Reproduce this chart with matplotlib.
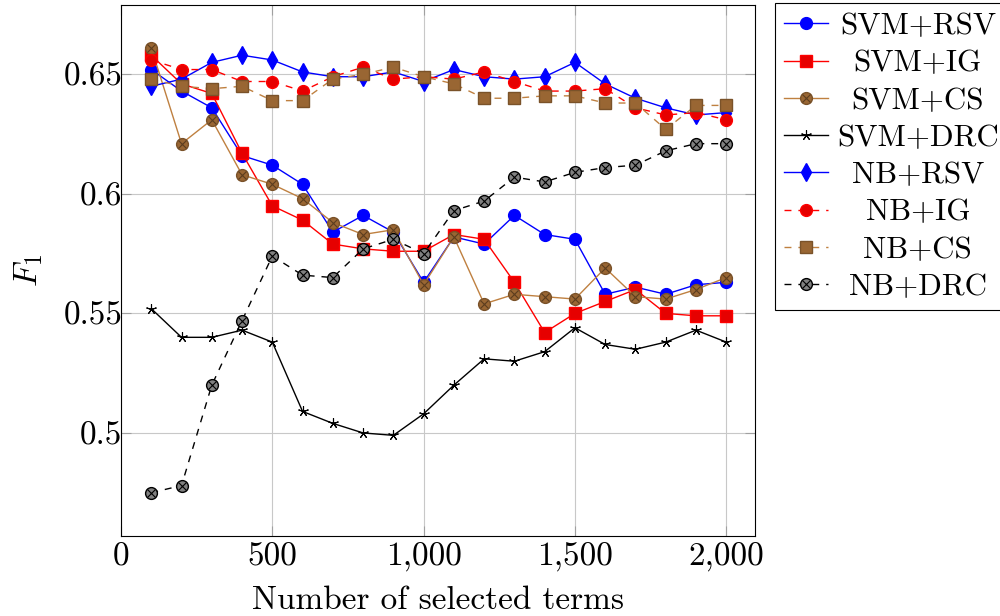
import matplotlib
matplotlib.use("Agg")
import matplotlib.pyplot as plt
from matplotlib.legend_handler import HandlerTuple
import numpy as np

plt.rcParams['font.family'] = ['cmr10', 'DejaVu Serif']
plt.rcParams['mathtext.fontset'] = 'cm'
plt.rcParams['axes.unicode_minus'] = False

x = [100, 200, 300, 400, 500, 600, 700, 800, 900, 1000,
     1100, 1200, 1300, 1400, 1500, 1600, 1700, 1800, 1900, 2000]

svm_rsv = [0.652, 0.643, 0.636, 0.616, 0.612, 0.604, 0.584, 0.591, 0.584, 0.563,
           0.582, 0.579, 0.591, 0.583, 0.581, 0.558, 0.561, 0.558, 0.562, 0.563]
svm_ig = [0.658, 0.646, 0.642, 0.617, 0.595, 0.589, 0.579, 0.577, 0.576, 0.576,
          0.583, 0.581, 0.563, 0.542, 0.550, 0.555, 0.560, 0.550, 0.549, 0.549]
svm_cs = [0.661, 0.621, 0.631, 0.608, 0.604, 0.598, 0.588, 0.583, 0.585, 0.562,
          0.582, 0.554, 0.558, 0.557, 0.556, 0.569, 0.557, 0.556, 0.560, 0.565]
svm_drc = [0.552, 0.540, 0.540, 0.543, 0.538, 0.509, 0.504, 0.500, 0.499, 0.508,
           0.520, 0.531, 0.530, 0.534, 0.544, 0.537, 0.535, 0.538, 0.543, 0.538]
nb_rsv = [0.645, 0.648, 0.655, 0.658, 0.656, 0.651, 0.649, 0.649, 0.651, 0.647,
          0.652, 0.649, 0.648, 0.649, 0.655, 0.646, 0.640, 0.636, 0.633, 0.634]
nb_ig = [0.656, 0.652, 0.652, 0.647, 0.647, 0.643, 0.649, 0.653, 0.648, 0.649,
         0.648, 0.651, 0.647, 0.643, 0.643, 0.644, 0.636, 0.633, 0.634, 0.631]
nb_cs = [0.648, 0.645, 0.644, 0.645, 0.639, 0.639, 0.648, 0.650, 0.653, 0.649,
         0.646, 0.640, 0.640, 0.641, 0.641, 0.638, 0.638, 0.627, 0.637, 0.637]
nb_drc = [0.475, 0.478, 0.520, 0.547, 0.574, 0.566, 0.565, 0.577, 0.581, 0.575,
          0.593, 0.597, 0.607, 0.605, 0.609, 0.611, 0.612, 0.618, 0.621, 0.621]

labels = ["SVM+RSV", "SVM+IG", "SVM+CS", "SVM+DRC", "NB+RSV", "NB+IG", "NB+CS", "NB+DRC"]
xticks = [0, 500, 1000, 1500, 2000]
xticklabels = ["0", "500", "1,000", "1,500", "2,000"]
yticks = [0.5, 0.55, 0.6, 0.65]
yticklabels = ["0.5", "0.55", "0.6", "0.65"]

FS = 24
LFS = 22.3
BROWN = '#bf8040'
BROWN_F = '#996633'
RED_F = '#e60000'

fig = plt.figure(figsize=(10, 6.16), dpi=100)
ax = fig.add_axes([0.121, 1 - 536 / 616, 0.755 - 0.121, (536 - 5) / 616])

ms = 8.5
handles = []
h = ax.plot(x, svm_rsv, '-', color='blue', lw=1, marker='o', ms=ms,
            mfc='blue', mec='blue', zorder=3)[0]
handles.append(h)
h = ax.plot(x, svm_ig, '-', color='red', lw=1, marker='s', ms=8,
            mfc=RED_F, mec='red', zorder=3)[0]
handles.append(h)
h1 = ax.plot(x, svm_cs, '-', color=BROWN, lw=1, marker='o', ms=ms,
             mfc=BROWN_F, mec='#7a5229', zorder=3)[0]
h2 = ax.plot(x, svm_cs, ls='none', marker='x', ms=ms * 0.6, mec='#5c3d1f',
             mew=0.8, zorder=3.1)[0]
handles.append((h1, h2))
h = ax.plot(x, svm_drc, '-', color='black', lw=1, marker=(5, 2, 0), ms=7.5,
            mec='black', mew=0.8, zorder=3)[0]
handles.append(h)
h = ax.plot(x, nb_rsv, '-', color='blue', lw=1, marker='d', ms=9,
            mfc='blue', mec='blue', zorder=3)[0]
handles.append(h)
h = ax.plot(x, nb_ig, '--', color='red', lw=1, dashes=(5, 5), marker='o', ms=ms,
            mfc=RED_F, mec='red', zorder=3)[0]
handles.append(h)
h = ax.plot(x, nb_cs, '--', color=BROWN, lw=1, dashes=(5, 5), marker='s', ms=8,
            mfc=BROWN_F, mec='#7a5229', zorder=3)[0]
handles.append(h)
h1 = ax.plot(x, nb_drc, '--', color='black', lw=1, dashes=(5, 5), marker='o', ms=ms,
             mfc='#808080', mec='black', zorder=3)[0]
h2 = ax.plot(x, nb_drc, ls='none', marker='x', ms=ms * 0.6, mec='black',
             mew=0.8, zorder=3.1)[0]
handles.append((h1, h2))

ax.set_xlim(5, 2095)
ax.set_ylim(0.4569, 0.679)
ax.set_xticks(xticks)
ax.set_xticklabels(xticklabels)
ax.set_yticks(yticks)
ax.set_yticklabels(yticklabels)
ax.grid(True, color='#c8c8c8', lw=0.8)
ax.set_axisbelow(True)
ax.tick_params(direction='in', length=7, width=0.8, color='#a0a0a0',
               top=True, right=True, labelsize=FS)
ax.tick_params(axis='x', pad=4.5)
ax.tick_params(axis='y', pad=-1)
for s in ax.spines.values():
    s.set_linewidth(0.8)
ax.set_xlabel("Number of selected terms", fontsize=FS, labelpad=10)
ax.set_ylabel(r"$F_1$", fontsize=FS, labelpad=13.5)

leg = fig.legend(handles, labels, loc='upper left', bbox_to_anchor=(0.775, 0.995),
                 fontsize=LFS, frameon=True, fancybox=False, edgecolor='black',
                 framealpha=1, handlelength=1.4, handletextpad=0.3,
                 labelspacing=0.3, borderpad=0.3, borderaxespad=0.0,
                 handler_map={tuple: HandlerTuple(ndivide=1, pad=0)})
leg.get_frame().set_linewidth(0.8)

# center legend texts as in the original
fig.canvas.draw()
r = fig.canvas.get_renderer()
ext = [t.get_window_extent(r) for t in leg.get_texts()]
x0 = min(e.x0 for e in ext)
x1 = max(e.x1 for e in ext)
xc = (x0 + x1) / 2
inv = fig.transFigure.inverted()
for t, e in zip(leg.get_texts(), ext):
    t.set_alpha(0)
    fx, fy = inv.transform((xc, e.y0))
    fig.text(fx, fy, t.get_text(), ha='center', va='bottom', fontsize=LFS,
             zorder=10)

fig.savefig("out.png", dpi=100)
